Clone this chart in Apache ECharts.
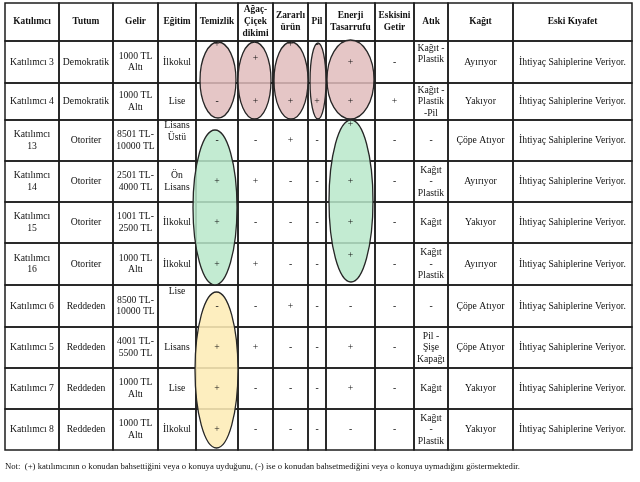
<!DOCTYPE html>
<html><head><meta charset="utf-8">
<script src="https://cdn.jsdelivr.net/npm/echarts@6/dist/echarts.min.js"></script>
<style>html,body{margin:0;padding:0;background:#fff}#c{width:640px;height:482px}</style>
</head><body><div id="c"></div>
<script>
// ---------- DATA ----------
const headers = ['Katılımcı','Tutum','Gelir','Eğitim','Temizlik','Ağaç-\nÇiçek\ndikimi','Zararlı\nürün','Pil','Enerji\nTasarrufu','Eskisini\nGetir','Atık','Kağıt','Eski Kıyafet'];
const katilimci = ['Katılımcı 3','Katılımcı 4','Katılımcı\n13','Katılımcı\n14','Katılımcı\n15','Katılımcı\n16','Katılımcı 6','Katılımcı 5','Katılımcı 7','Katılımcı 8'];
const tutum = ['Demokratik','Demokratik','Otoriter','Otoriter','Otoriter','Otoriter','Reddeden','Reddeden','Reddeden','Reddeden'];
const gelir = ['1000 TL\nAltı','1000 TL\nAltı','8501 TL-\n10000 TL','2501 TL-\n4000 TL','1001 TL-\n2500 TL','1000 TL\nAltı','8500 TL-\n10000 TL','4001 TL-\n5500 TL','1000 TL\nAltı','1000 TL\nAltı'];
const egitim = ['İlkokul','Lise','Lisans\nÜstü','Ön\nLisans','İlkokul','İlkokul','Lise','Lisans','Lise','İlkokul'];
const temizlik = ['+','-','-','+','+','+','-','+','+','+'];
const agacCicek = ['+','+','-','+','-','+','-','+','-','-'];
const zararliUrun = ['+','+','+','-','-','-','+','-','-','-'];
const pil = ['-','+','-','-','-','-','-','-','-','-'];
const enerji = ['+','+','+','+','+','+','-','+','+','-'];
const eskisiniGetir = ['-','+','-','-','-','-','-','-','-','-'];
const atik = ['Kağıt -\nPlastik','Kağıt -\nPlastik\n-Pil','-','Kağıt\n-\nPlastik','Kağıt','Kağıt\n-\nPlastik','-','Pil -\nŞişe\nKapağı','Kağıt','Kağıt\n-\nPlastik'];
const kagit = ['Ayırıyor','Yakıyor','Çöpe Atıyor','Ayırıyor','Yakıyor','Ayırıyor','Çöpe Atıyor','Çöpe Atıyor','Yakıyor','Yakıyor'];
const eskiKiyafet = ['İhtiyaç Sahiplerine Veriyor.','İhtiyaç Sahiplerine Veriyor.','İhtiyaç Sahiplerine Veriyor.','İhtiyaç Sahiplerine Veriyor.','İhtiyaç Sahiplerine Veriyor.','İhtiyaç Sahiplerine Veriyor.','İhtiyaç Sahiplerine Veriyor.','İhtiyaç Sahiplerine Veriyor.','İhtiyaç Sahiplerine Veriyor.','İhtiyaç Sahiplerine Veriyor.'];
// highlighted groups: column index, first row, last row (data rows)
const groupColumns = [4, 5, 6, 7, 8, 4, 8, 4];
const groupRowStart = [0, 0, 0, 0, 0, 2, 2, 6];
const groupRowEnd   = [1, 1, 1, 1, 1, 5, 5, 9];
const groupKind = ['pink','pink','pink','pink','pink','green','green','yellow'];
const note = 'Not:  (+) katılımcının o konudan bahsettiğini veya o konuya uyduğunu, (-) ise o konudan bahsetmediğini veya o konuya uymadığını göstermektedir.';

// ---------- LAYOUT / STYLE ----------
const columnsData = [katilimci, tutum, gelir, egitim, temizlik, agacCicek, zararliUrun, pil, enerji, eskisiniGetir, atik, kagit, eskiKiyafet];
const colWidths = [54,54,45,38,42,35,35,18,49,39,34,65,119];
const rowHeights = [38,42,37,41,41,41,42,42,41,41,41];
const colEdges = [0]; colWidths.forEach(w => colEdges.push(colEdges[colEdges.length-1] + w));
const rowEdges = [0]; rowHeights.forEach(h => rowEdges.push(rowEdges[rowEdges.length-1] + h));
const tableW = colEdges[colEdges.length-1], tableH = rowEdges[rowEdges.length-1];
// ellipse insets [left, right, top, bottom] in px relative to block edges
const groupInsets = [[4,-2,1,-2],[0,-2,1,-1],[1,0,1,-1],[2,0,2,-1],[1,-1,-1,-1],[-3,-1,10,0],[3,-2,0,-3],[-1,0,7,-2]];
const kindColors = {pink:'rgba(224,188,188,0.85)', green:'rgba(184,232,202,0.85)', yellow:'rgba(253,236,182,0.88)'};
// per-cell vertical shift (dataRow, col, dy)
const cellShift = {'0,4':-18,'0,6':-18,'0,7':-18,'0,5':-4,'0,10':-8,'2,3':-9,'2,8':-16,'5,8':-9,'6,3':-15};
const FONT = '"Liberation Serif","DejaVu Serif",serif';

const cells = [];
for (let r = 0; r < rowHeights.length; r++) for (let c = 0; c < colWidths.length; c++) cells.push([c, r]);

function cellRender(params, api) {
  const c = api.value(0), r = api.value(1);
  const p0 = api.coord([colEdges[c], rowEdges[r]]);
  const p1 = api.coord([colEdges[c+1], rowEdges[r+1]]);
  return {type:'rect', shape:{x:p0[0], y:p0[1], width:p1[0]-p0[0], height:p1[1]-p0[1]},
    style:{fill:'none', stroke:'#1c1c1c', lineWidth:1.5}};
}
function textRender(params, api) {
  const c = api.value(0), r = api.value(1);
  const p0 = api.coord([colEdges[c], rowEdges[r]]);
  const p1 = api.coord([colEdges[c+1], rowEdges[r+1]]);
  const txt = r === 0 ? headers[c] : columnsData[c][r-1];
  const dy = r === 0 ? 0 : (cellShift[(r-1)+','+c] || 0);
  return {type:'text', x:(p0[0]+p1[0])/2, y:(p0[1]+p1[1])/2 + dy,
    style:{text:txt, fill:'#111', align:'center', verticalAlign:'middle',
      font: r===0 ? 'bold 9.4px '+FONT : '9.7px '+FONT, lineHeight: r===0 ? 12 : 11.5}};
}
function ellipseRender(params, api) {
  const g = api.value(0);
  const ins = groupInsets[g];
  const c = groupColumns[g];
  const a = api.coord([colEdges[c], rowEdges[groupRowStart[g]+1]]);
  const b = api.coord([colEdges[c+1], rowEdges[groupRowEnd[g]+2]]);
  const x0 = a[0]+ins[0], x1 = b[0]+ins[1], y0 = a[1]+ins[2], y1 = b[1]+ins[3];
  return {type:'ellipse', shape:{cx:(x0+x1)/2, cy:(y0+y1)/2, rx:(x1-x0)/2, ry:(y1-y0)/2},
    style:{fill:kindColors[groupKind[g]], stroke:'#262626', lineWidth:1.3}};
}

const chart = echarts.init(document.getElementById('c'), null, {renderer:'canvas'});
chart.setOption({
  animation:false,
  backgroundColor:'#fff',
  grid:{left:5, top:3, width:tableW, height:tableH},
  xAxis:{type:'value', min:0, max:tableW, show:false},
  yAxis:{type:'value', min:0, max:tableH, inverse:true, show:false},
  series:[
    {type:'custom', renderItem:cellRender, data:cells, z:1, silent:true},
    {type:'custom', renderItem:ellipseRender, data:groupColumns.map((_, i) => [i]), encode:{x:-1,y:-1}, z:2, silent:true},
    {type:'custom', renderItem:textRender, data:cells, z:3, silent:true}
  ],
  graphic:[{type:'text', left:5, top:462, style:{text:note, fill:'#111', font:'8.7px '+FONT}}]
});
</script></body></html>
